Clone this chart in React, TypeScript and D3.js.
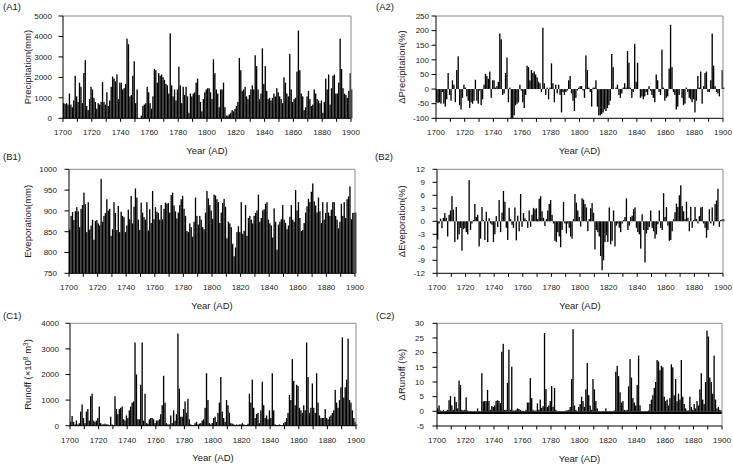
import React from "react";
import * as d3 from "d3";

// years 1700..1900, one bar per year
const years = d3.range(1700, 1901);
const xTickYears = d3.range(1700, 1901, 10);
const xLabelYears = d3.range(1700, 1901, 20);

// (A1) precipitation, mm
const precip = [
  740, 700, 740, 670, 1210, 670, 540, 870, 2080, 1070,
  800, 1740, 1540, 740, 2210, 2840, 600, 400, 940, 1540,
  1410, 1000, 800, 470, 740, 670, 800, 1770, 800, 670,
  1270, 600, 870, 1540, 2040, 1940, 1810, 2140, 940, 1740,
  1740, 1410, 1470, 1680, 3890, 3620, 1070, 1140, 2080, 2790,
  740, 1410, 0, 0, 130, 600, 670, 740, 1540, 1270,
  740, 470, 1070, 2410, 2350, 1740, 2210, 2080, 2140, 2010,
  1880, 1680, 1610, 1210, 4150, 1610, 1070, 1410, 870, 1410,
  2520, 1610, 740, 1540, 1140, 1540, 1070, 270, 1210, 1070,
  1210, 1270, 1740, 1940, 1140, 800, 340, 940, 1270, 1410,
  1470, 1470, 1270, 940, 2880, 2210, 1410, 1210, 540, 1410,
  1410, 1740, 540, 130, 130, 200, 270, 400, 340, 470,
  600, 800, 2950, 2350, 1340, 1410, 1540, 1070, 940, 1140,
  1410, 1610, 1410, 3080, 2550, 1410, 940, 1210, 3420, 1680,
  2550, 1340, 940, 1000, 870, 1000, 1210, 1070, 1470, 1270,
  1070, 940, 740, 2010, 1740, 1210, 1070, 3150, 1410, 800,
  940, 1000, 2280, 4290, 2350, 1210, 1070, 400, 540, 1070,
  1340, 940, 600, 670, 1410, 1210, 940, 870, 740, 870,
  270, 800, 1940, 1410, 2140, 670, 1470, 2080, 2140, 1210,
  1210, 1740, 3890, 2410, 1470, 1210, 1140, 1000, 1340, 2210,
  1410,
];

// (A2) precipitation change, %
const precipChange = [
  -45, -48, -45, -50, -10, -50, -60, -35, 55, -20,
  -40, 30, 15, -45, 65, 112, -55, -70, -30, 15,
  5, -25, -40, -65, -45, -50, -40, 32, -40, -50,
  -5, -55, -35, 15, 52, 45, 35, 60, -30, 30,
  30, 5, 10, 25, 190, 170, -20, -15, 55, 108,
  -45, 5, -100, -100, -90, -55, -50, -45, 15, -5,
  -45, -65, -20, 80, 75, 30, 65, 55, 60, 50,
  40, 25, 20, -10, 210, 20, -20, 5, -35, 5,
  88, 20, -45, 15, -15, 15, -20, -80, -10, -20,
  -10, -5, 30, 45, -15, -40, -75, -30, -5, 5,
  10, 10, -5, -30, 115, 65, 5, -10, -60, 5,
  5, 30, -60, -90, -90, -85, -80, -70, -75, -65,
  -55, -40, 120, 75, 0, 5, 15, -20, -30, -15,
  5, 20, 5, 130, 90, 5, -30, -10, 155, 25,
  90, 0, -30, -25, -35, -25, -10, -20, 10, -5,
  -20, -30, -45, 50, 30, -10, -20, 135, 5, -40,
  -30, -25, 70, 220, 75, -10, -20, -70, -60, -20,
  0, -30, -55, -50, 5, -10, -30, -35, -45, -35,
  -80, -40, 45, 5, 60, -50, 10, 55, 60, -10,
  -10, 30, 190, 80, 10, -10, -15, -25, 0, 65,
  5,
];

// (B1) evaporation, mm
const evap = [
  855, 888, 897, 878, 899, 909, 899, 861, 905, 914,
  944, 916, 849, 921, 855, 865, 879, 831, 876, 878,
  870, 865, 977, 874, 888, 895, 928, 901, 905, 840,
  856, 921, 895, 854, 912, 849, 898, 888, 885, 849,
  865, 903, 880, 936, 870, 910, 954, 932, 879, 854,
  920, 896, 885, 879, 921, 853, 904, 871, 948, 880,
  909, 898, 895, 879, 914, 880, 905, 920, 917, 919,
  896, 938, 944, 913, 899, 882, 896, 914, 928, 936,
  905, 888, 852, 849, 870, 861, 838, 874, 932, 888,
  867, 888, 879, 861, 856, 896, 948, 930, 914, 901,
  881, 939, 937, 928, 921, 871, 896, 919, 929, 910,
  834, 874, 870, 861, 821, 791, 812, 849, 863, 849,
  921, 845, 852, 914, 840, 883, 888, 879, 870, 888,
  895, 901, 939, 874, 883, 901, 904, 917, 921, 879,
  870, 865, 836, 906, 874, 807, 867, 874, 880, 914,
  879, 871, 856, 865, 886, 914, 879, 874, 950, 901,
  921, 883, 852, 854, 871, 896, 911, 929, 921, 946,
  966, 923, 913, 896, 932, 899, 871, 921, 879, 895,
  921, 896, 888, 903, 921, 921, 888, 879, 858, 874,
  917, 888, 921, 883, 928, 935, 959, 880, 895, 896,
  896,
];

// (B2) evaporation change, %
const evapChange = [
  -4.2, -0.5, 0.6, -1.6, 0.8, 1.9, 0.8, -3.5, 1.5, 2.5,
  5.8, 2.7, -4.8, 3.3, -4.2, -3, -1.5, -6.8, -1.8, -1.6,
  -2.5, -3, 9.5, -2, -0.5, 0.3, 4, 1, 1.5, -5.8,
  -4, 3.3, 0.3, -4.3, 2.2, -4.8, 0.7, -0.5, -0.8, -4.8,
  -3, 1.2, -1.3, 4.9, -2.5, 2, 7, 4.5, -1.5, -4.3,
  3.1, 0.5, -0.8, -1.5, 3.2, -4.4, 1.3, -2.3, 6.3, -1.3,
  1.9, 0.7, 0.3, -1.5, 2.5, -1.3, 1.5, 3.1, 2.8, 3.0,
  0.5, 5.2, 5.8, 2.3, 0.8, -1.1, 0.5, 2.5, 4.0, 4.9,
  1.5, -0.5, -4.5, -4.8, -2.5, -3.5, -6, -2, 4.5, -0.5,
  -2.8, -0.5, -1.5, -3.5, -4, 0.5, 6.3, 4.3, 2.5, 1,
  -1.2, 5.3, 5, 4, 3.2, -2.3, 0.5, 3, 4.2, 2,
  -6.5, -2, -2.5, -3.5, -8, -11.3, -9, -4.8, -3.2, -4.8,
  3.2, -5.3, -4.5, 2.5, -5.8, -1, -0.5, -1.5, -2.5, -0.5,
  0.3, 1, 5.3, -2, -1, 1, 1.3, 2.8, 3.2, -1.5,
  -2.5, -3, -6.3, 1.6, -2, -9.5, -2.8, -2, -1.3, 2.5,
  -1.5, -2.3, -4, -3, -0.7, 2.5, -1.5, -2, 6.5, 1,
  3.3, -1, -4.5, -4.3, -2.3, 0.5, 2.1, 4.1, 3.3, 6,
  8.3, 3.5, 2.3, 0.5, 4.5, 0.8, -2.3, 3.3, -1.5, 0.3,
  3.3, 0.5, -0.5, 1.2, 3.2, 3.3, -0.5, -1.5, -3.8, -2,
  2.8, -0.5, 3.2, -1, 4, 4.8, 7.5, -1.3, 0.3, 0.5,
  0.5,
];

// (C1) runoff, x10^8 m3
const runoff = [
  150, 380, 150, 50, 200, 50, 100, 550, 830, 300,
  100, 550, 650, 200, 1150, 1250, 200, 150, 200, 300,
  750, 100, 50, 50, 80, 50, 50, 30, 350, 50,
  20, 1150, 650, 450, 650, 700, 750, 250, 200, 400,
  300, 600, 750, 900, 950, 3250, 2000, 250, 250, 1600,
  3250, 200, 1250, 100, 80, 250, 300, 300, 250, 100,
  200, 200, 250, 450, 800, 1950, 900, 100, 50, 50,
  400, 100, 600, 200, 450, 3600, 1450, 350, 350, 650,
  950, 500, 1050, 250, 50, 20, 30, 100, 150, 50,
  80, 100, 200, 250, 700, 2050, 1000, 100, 50, 100,
  300, 350, 150, 500, 900, 1900, 550, 300, 150, 1000,
  800, 500, 100, 80, 50, 30, 50, 30, 50, 50,
  100, 50, 30, 30, 80, 1250, 900, 1800, 700, 300,
  450, 500, 100, 600, 1720, 800, 300, 400, 250, 600,
  300, 2050, 600, 50, 30, 20, 50, 30, 20, 100,
  150, 300, 500, 1200, 1000, 2600, 1750, 800, 1600, 1550,
  700, 600, 500, 800, 600, 3250, 1900, 500, 700, 1650,
  700, 500, 2050, 900, 400, 300, 300, 300, 650, 300,
  250, 350, 400, 500, 600, 1400, 900, 700, 1000, 1500,
  3450, 1100, 1500, 1800, 3400, 1000, 900, 600, 300, 150,
  50,
];

// (C2) runoff change, %
const runoffChange = [
  1, 2, 0.3, 0, 0.5, 0, 0.2, 0.5, 3.8, 5.2,
  2, 0.5, 5, 3.2, 1, 10.5, 9, 0.5, 0.3, 0.5,
  4.8, 0.3, 0, 0, 0, 0, 0, 0, 1, 0,
  0, 13, 3.4, 3.5, 3.5, 7.3, 3.5, 0.5, 1.8, 1.5,
  2, 3.5, 3.8, 3.5, 2.8, 20.3, 23, 0.5, 0.5, 9.7,
  21, 0.5, 15.2, 0.3, 0.2, 0.5, 1, 0.8, 0.5, 0.2,
  0.2, 0, 0.5, 3, 3, 11.3, 4.5, 0.5, 0.2, 0.3,
  2.7, 0.5, 4, 1.2, 1.8, 26.7, 7.6, 1.5, 2, 3.5,
  8.6, 1.5, 8, 0.5, 0, 0, 0, 0, 0, 0,
  0.3, 0.3, 0.5, 1.5, 11, 28, 2, 0.5, 0, 1.5,
  2.5, 5, 3.5, 1.5, 7.5, 16.5, 5.5, 2, 0.5, 11,
  7.5, 3.5, 1, 0, 0, 0, 0, 0, 1, 0,
  0, 0, 0, 0, 0.3, 13.5, 15.5, 12, 6.5, 3,
  3.5, 0.5, 0.3, 0.5, 8.5, 17.8, 11.5, 4.5, 3, 2,
  9, 19, 2, 0, 0, 0, 0, 0, 0.3, 2.5,
  4, 5.5, 8, 10, 17.5, 17, 14, 15.5, 15, 5,
  3.5, 4, 2, 4.5, 16, 15, 5.5, 11, 3.5, 6,
  4, 17.5, 5, 2.5, 1, 0.3, 0.3, 5, 1.5, 0.5,
  2.5, 1, 3.5, 2, 7.5, 13, 4, 2.5, 10, 27.5,
  25.5, 11.5, 10, 6, 19, 4, 1, 1.5, 0.5, 0.3,
  0,
];

const precipTicks = d3.range(0, 5001, 1000);
const precipChangeTicks = d3.range(-100, 251, 50);
const evapTicks = d3.range(750, 1001, 50);
const evapChangeTicks = d3.range(-12, 13, 3);
const runoffTicks = d3.range(0, 4001, 1000);
const runoffChangeTicks = d3.range(-5, 31, 5);

const FONT = "'Liberation Sans', Arial, Helvetica, sans-serif";
const TEXT = "#1a1a1a";

function Panel({ label, labelX, labelY, values, domain, ticks, x0, x1, top, bottom, titleX, title, tickGap, band }) {
  const x = d3.scaleLinear().domain([1700, 1900]).range([x0, x1]);
  const y = d3.scaleLinear().domain(domain).range([bottom, top]);
  const base = y(domain[0] >= 0 ? domain[0] : 0);
  const step = x(1701) - x(1700);
  const bw = step * 0.93;
  const midY = (top + bottom) / 2;

  return (
    <g fontFamily={FONT} fill={TEXT}>
      <text x={labelX} y={labelY} fontSize={9.5}>{label}</text>

      {band !== undefined && (
        <rect x={x0} y={y(0)} width={x1 - x0} height={y(band) - y(0)} fill="#000" />
      )}

      {values.map((v, i) => {
        const yv = y(v);
        return (
          <rect
            key={i}
            x={x(years[i])}
            y={Math.min(yv, base)}
            width={bw}
            height={Math.abs(base - yv)}
            fill="#000"
          />
        );
      })}

      <line x1={x0} x2={x1} y1={top} y2={top} stroke="#8a8a8a" />
      <line x1={x1} x2={x1} y1={top} y2={bottom} stroke="#8a8a8a" />
      <line x1={x0} x2={x0} y1={top} y2={bottom} stroke="#000" />
      <line x1={x0} x2={x1} y1={bottom} y2={bottom} stroke="#000" />

      {ticks.map((t) => (
        <g key={"y" + t}>
          <line x1={x0 - 4.5} x2={x0} y1={y(t)} y2={y(t)} stroke="#000" />
          <text x={x0 - tickGap} y={y(t)} dy="0.35em" textAnchor="end" fontSize={8}>
            {t}
          </text>
        </g>
      ))}

      {xTickYears.map((t) => (
        <line key={"x" + t} x1={x(t)} x2={x(t)} y1={bottom} y2={bottom + 3.5} stroke="#000" />
      ))}
      {xLabelYears.map((t) => (
        <text key={"xl" + t} x={x(t)} y={bottom + 17} textAnchor="middle" fontSize={8}>
          {t}
        </text>
      ))}

      <text x={(x0 + x1) / 2} y={bottom + 35.5} textAnchor="middle" fontSize={9.5}>
        Year (AD)
      </text>
      <text
        transform={`translate(${titleX},${midY}) rotate(-90)`}
        dy="0.35em"
        textAnchor="middle"
        fontSize={9.5}
      >
        {title}
      </text>
    </g>
  );
}

export default function App() {
  return (
    <svg
      width={733}
      height={466}
      style={{ position: "absolute", left: 0, top: 0, background: "#fff" }}
    >
      <Panel label="(A1)" labelX={3} labelY={10} values={precip} domain={[0, 5000]} ticks={precipTicks}
        x0={63} x1={351} top={16} bottom={118.3} titleX={28} tickGap={11} title="Precipitation(mm)" />
      <Panel label="(A2)" labelX={376} labelY={10} values={precipChange} domain={[-100, 250]} ticks={precipChangeTicks}
        x0={436} x1={723} top={16} bottom={118.3} titleX={401.5} tickGap={7} title="ΔPrecipitation(%)" />

      <Panel label="(B1)" labelX={3} labelY={160} values={evap} domain={[750, 1000]} ticks={evapTicks}
        x0={69} x1={355} top={169.3} bottom={273.3} titleX={28} tickGap={12} title="Eveporation(mm)" />
      <Panel label="(B2)" labelX={375} labelY={160} values={evapChange} domain={[-12, 12]} ticks={evapChangeTicks}
        x0={437} x1={723} top={169.3} bottom={273.3} titleX={401.5} tickGap={12} title="ΔEveporation(%)" />

      <Panel label="(C1)" labelX={3} labelY={319} values={runoff} domain={[0, 4000]} ticks={runoffTicks}
        x0={70} x1={356} top={323.3} bottom={425.7} titleX={28} tickGap={11}
        title={<>Runoff (×10<tspan dy="-3.5" fontSize={6.5}>8</tspan><tspan dy="3.5"> m</tspan><tspan dy="-3.5" fontSize={6.5}>3</tspan><tspan dy="3.5">)</tspan></>} />
      <Panel label="(C2)" labelX={376} labelY={319} values={runoffChange} domain={[-5, 30]} ticks={runoffChangeTicks}
        x0={437} x1={722} top={323.3} bottom={426} titleX={401.5} tickGap={13} band={-0.9} title="ΔRunoff (%)" />
    </svg>
  );
}
